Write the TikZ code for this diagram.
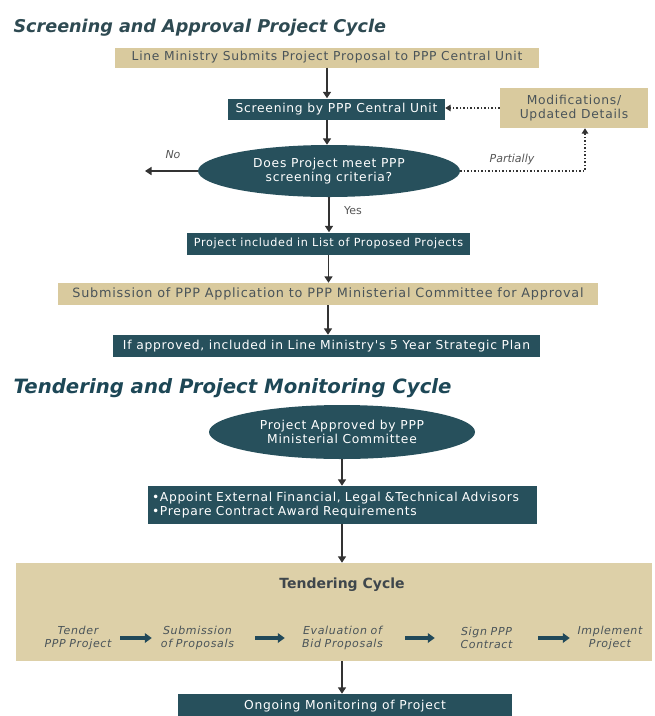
\documentclass[tikz,border=0pt]{standalone}
\usepackage{fontspec}
\setmainfont{DejaVu Sans}
\newfontfamily\boxfont{DejaVu Sans}[LetterSpace=6.0]
\usepackage{xcolor}
\usepackage{tikz}
\usetikzlibrary{shapes.geometric,arrows.meta}
\definecolor{pppdark}{HTML}{27505C}
\definecolor{ppptan}{HTML}{D9CA9E}
\definecolor{pppsand}{HTML}{DDD0A8}
\definecolor{ppptext}{HTML}{4A5459}
\definecolor{pppline}{HTML}{333333}
\definecolor{pppgrey}{HTML}{555555}
\definecolor{ppptitle}{HTML}{2E4A52}
\definecolor{ppphead}{HTML}{1D4756}
\definecolor{pppstep}{HTML}{21495A}

\begin{document}
\begin{tikzpicture}[x=1pt,y=-1pt,
  darkbox/.style={rectangle,fill=pppdark,text=white,inner sep=0pt,font=\boxfont\fontsize{12.3}{13.5}\selectfont},
  tanbox/.style={rectangle,fill=ppptan,text=ppptext,inner sep=0pt,font=\boxfont\fontsize{12.3}{13.5}\selectfont},
  oval/.style={ellipse,fill=pppdark,text=white,align=center,inner sep=0pt,font=\boxfont\fontsize{12.3}{13.5}\selectfont},
  arr/.style={draw=pppline,line width=1.7pt,-{Triangle[length=6.5pt,width=8pt]}},
  dotarr/.style={draw=pppline,line width=1.5pt,dotted,-{Triangle[length=5.5pt,width=6.5pt]}},
  steparr/.style={draw=pppstep,line width=3.2pt,-{Triangle[length=7pt,width=9.5pt]}},
  steptxt/.style={align=center,inner sep=0pt,text=ppptext,font=\boxfont\itshape\fontsize{11}{13}\selectfont},
  lbl/.style={text=pppgrey,font=\itshape\fontsize{11}{12}\selectfont}]
\useasboundingbox (0,0) rectangle (655,716);

% screening and approval
\node[anchor=west,text=ppptitle,font=\bfseries\itshape\fontsize{17.6}{20}\selectfont] (head1) at (10,28) {Screening and Approval Project Cycle};
\node[tanbox,minimum width=424pt,minimum height=20pt] (submit) at (327,57.5) {Line Ministry Submits Project Proposal to PPP Central Unit};
\node[darkbox,minimum width=217pt,minimum height=21pt] (screen) at (336.5,109) {Screening by PPP Central Unit};
\node[tanbox,minimum width=148pt,minimum height=40pt,align=center] (modif) at (574,108) {Modifications/\\Updated Details};
\node[oval,minimum width=262pt,minimum height=52pt] (crit) at (329,171) {Does Project meet PPP\\screening criteria?};
\node[darkbox,minimum width=283pt,minimum height=22pt,font=\boxfont\fontsize{11.2}{13}\selectfont] (listed) at (328.5,243.5) {Project included in List of Proposed Projects};
\node[tanbox,minimum width=540pt,minimum height=22pt,font=\boxfont\fontsize{12.8}{14}\selectfont] (applic) at (328,294) {Submission of PPP Application to PPP Ministerial Committee for Approval};
\node[darkbox,minimum width=427pt,minimum height=22pt] (plan) at (326.5,346) {If approved, included in Line Ministry's 5 Year Strategic Plan};
\coordinate (noend) at (145,171);
\coordinate (pcorner) at (585,171);
\node[lbl] (nolbl) at (173,155) {No};
\node[lbl] (partlbl) at (512,159) {Partially};
\node[text=pppgrey,font=\fontsize{11}{12}\selectfont] (yeslbl) at (353,211) {Yes};

\draw[arr] (submit.south) -- (submit.south |- screen.north);
\draw[arr] (submit.south |- screen.south) -- (submit.south |- crit.north);
\draw[arr] (crit.south) -- (crit.south |- listed.north);
\draw[arr] (listed.south) -- (listed.south |- applic.north);
\draw[arr] (applic.south) -- (applic.south |- plan.north);
\draw[arr] (crit.west) -- (noend);
\draw[dotarr] (crit.east) -- (pcorner) -- (pcorner |- modif.south);
\draw[dotarr] (modif.west) -- (modif.west -| screen.east);

% tendering and monitoring
\node[anchor=west,text=ppphead,font=\bfseries\itshape\fontsize{19.7}{22}\selectfont] (head2) at (10,388) {Tendering and Project Monitoring Cycle};
\node[oval,minimum width=266pt,minimum height=54pt] (approved) at (342,432) {Project Approved by PPP\\Ministerial Committee};
\node[darkbox,minimum width=389pt,minimum height=38pt,text width=381pt,align=left] (advise) at (342.5,505) {\textbullet Appoint External Financial, Legal \&Technical Advisors\\\textbullet Prepare Contract Award Requirements};
\node[rectangle,fill=pppsand,minimum width=636pt,minimum height=98pt] (tender) at (334,612) {};
\node[text=ppptext!85!black,font=\bfseries\fontsize{14}{16}\selectfont] (tcycle) at (342,585) {Tendering Cycle};
\node[steptxt,text width=76pt] (step1) at (78,638) {Tender\\PPP Project};
\node[steptxt,text width=82pt] (step2) at (197.5,638) {Submission\\of Proposals};
\node[steptxt,text width=95pt] (step3) at (342.5,638) {Evaluation of\\Bid Proposals};
\node[steptxt,text width=62pt] (step4) at (486.5,638) {Sign PPP\\Contract};
\node[steptxt,text width=76pt] (step5) at (610,638) {Implement\\Project};
\node[darkbox,minimum width=334pt,minimum height=24pt] (monitor) at (345,706) {Ongoing Monitoring of Project};

\draw[arr] (approved.south) -- (approved.south |- advise.north);
\draw[arr] (approved.south |- advise.south) -- (approved.south |- tender.north);
\draw[arr] (approved.south |- tender.south) -- (approved.south |- monitor.north);
\draw[steparr,shorten <=4pt,shorten >=4.5pt] (step1.east) -- (step2.west);
\draw[steparr,shorten <=16.5pt,shorten >=10pt] (step2.east) -- (step3.west);
\draw[steparr,shorten <=15pt,shorten >=20.5pt] (step3.east) -- (step4.west);
\draw[steparr,shorten <=20.5pt,shorten >=2pt] (step4.east) -- (step5.west);
\end{tikzpicture}
\end{document}
